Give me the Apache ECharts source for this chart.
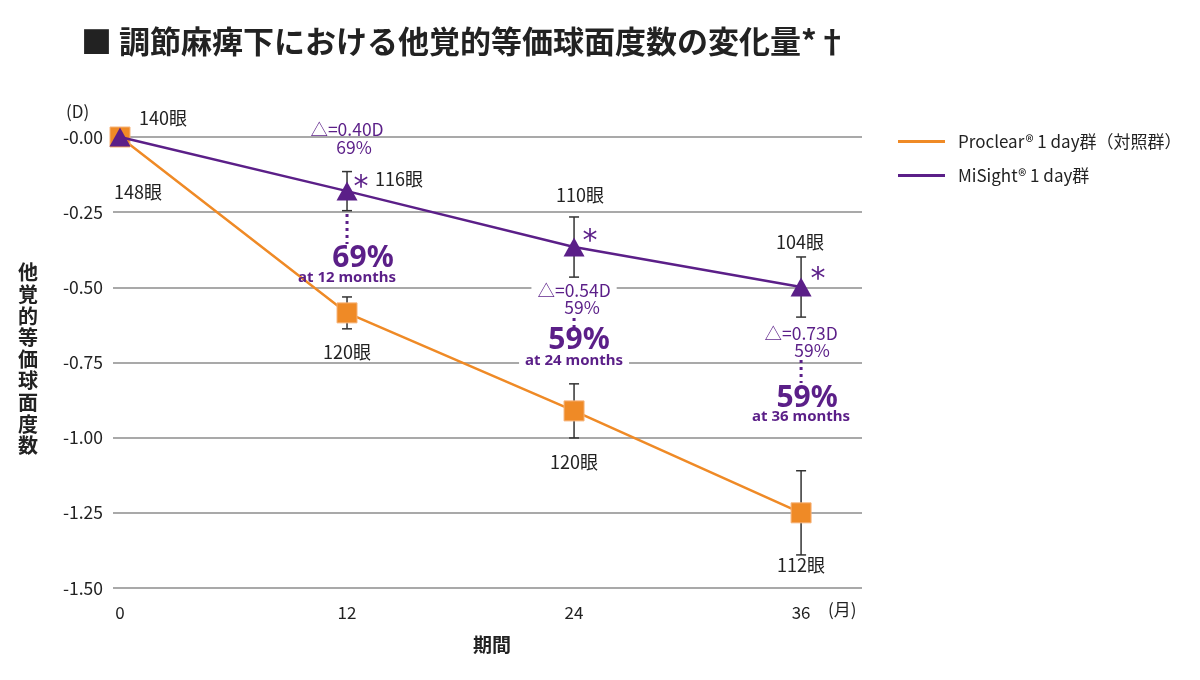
<!DOCTYPE html>
<html>
<head>
<meta charset="utf-8">
<script src="https://cdn.jsdelivr.net/npm/echarts@6/dist/echarts.min.js"></script>
<style>
  html, body { margin: 0; background: #fff; }
  #chart { width: 1200px; height: 680px; }
</style>
</head>
<body>
<div id="chart"></div>
<script>
  // 期間（月）
  const months = [0, 12, 24, 36]
  // Proclear 1 day群（対照群）
  const proclear = [0, -0.585, -0.911, -1.25]
  const proclearErr = [0, 0.053, 0.09, 0.14]
  const proclearEyes = [148, 120, 120, 112]
  // MiSight 1 day群
  const misight = [0, -0.18, -0.366, -0.499]
  const misightErr = [0, 0.065, 0.10, 0.10]
  const misightEyes = [140, 116, 110, 104]
  // 群間差
  const diffMonths = [12, 24, 36]
  const diffDioptre = ['0.40', '0.54', '0.73']
  const diffPercent = ['69%', '59%', '59%']

  const ORANGE = '#EF8A26'
  const PURPLE = '#5B1F88'
  const TEXT = '#222'
  const JP = '"Noto Sans CJK JP", "Noto Sans", sans-serif'

  // ラベル位置（px）
  const purpleEyeOffset = [[43, -19], [52, -12], [6, -52], [-1, -45]]
  const orangeEyeOffset = [[18, 55], [0, 39], [0, 51], [0, 52]]
  const noteLayout = [
    { delta: -62, pct: -44, pctX: 7, dot: [23, 53], big: 67, bigX: 16, at: 87, bg: false, star: [14, -3] },
    { delta: 43, pct: 60, pctX: 8, dot: [71, 81], big: 93, bigX: 5, at: 114, bg: true, star: [16, -5] },
    { delta: 46, pct: 63, pctX: 11, dot: [73, 96], big: 111, bigX: 6, at: 130, bg: false, star: [17, -7] }
  ]

  const chart = echarts.init(document.getElementById('chart'))

  function errData(ys, errs) {
    return months.map((m, i) => [m, ys[i], errs[i]]).filter(d => d[2] > 0)
  }

  function renderErr(params, api) {
    const x = api.value(0), y = api.value(1), e = api.value(2)
    const top = api.coord([x, y + e])
    const bot = api.coord([x, y - e])
    const st = { stroke: '#333', lineWidth: 1.5 }
    return {
      type: 'group',
      children: [
        { type: 'line', shape: { x1: top[0], y1: top[1], x2: bot[0], y2: bot[1] }, style: st },
        { type: 'line', shape: { x1: top[0] - 5, y1: top[1], x2: top[0] + 5, y2: top[1] }, style: st },
        { type: 'line', shape: { x1: bot[0] - 5, y1: bot[1], x2: bot[0] + 5, y2: bot[1] }, style: st }
      ]
    }
  }

  function lineData(ys, eyes, offsets) {
    return months.map((m, i) => ({
      value: [m, ys[i]],
      label: { offset: offsets[i] },
      eyes: eyes[i]
    }))
  }

  function noteText(p, text, dx, dy, size, weight, bg, family) {
    return {
      type: 'text',
      style: {
        text: text,
        x: p[0] + dx,
        y: p[1] + dy,
        fill: PURPLE,
        fontSize: size,
        fontWeight: weight,
        fontFamily: family || (weight === 'bold' ? '"Noto Sans", sans-serif' : JP),
        align: 'center',
        verticalAlign: 'middle',
        backgroundColor: bg ? '#fff' : null,
        padding: bg ? [1, 6] : 0
      }
    }
  }

  function renderNote(params, api) {
    const i = params.dataIndex
    const L = noteLayout[i]
    const p = api.coord([api.value(0), api.value(1)])
    return {
      type: 'group',
      children: [
        noteText(p, '*', L.star[0], L.star[1], 30, 'normal', false, '"DejaVu Sans", sans-serif'),
        noteText(p, '△=' + diffDioptre[i] + 'D', 0, L.delta, 17.5, 'normal', L.bg),
        noteText(p, diffPercent[i], L.pctX, L.pct, 17.5, 'normal', false),
        {
          type: 'line',
          shape: { x1: p[0], y1: p[1] + L.dot[0], x2: p[0], y2: p[1] + L.dot[1] },
          style: { stroke: PURPLE, lineWidth: 3, lineDash: [3, 4] }
        },
        noteText(p, diffPercent[i], L.bigX, L.big, 30, 'bold', false),
        noteText(p, 'at ' + diffMonths[i] + ' months', 0, L.at, 15, 'bold', L.bg)
      ]
    }
  }

  chart.setOption({
    animation: false,
    title: {
      text: '■ 調節麻痺下における他覚的等価球面度数の変化量*†',
      left: 76,
      top: 21,
      textStyle: { fontSize: 31, fontWeight: 'bold', color: '#222', fontFamily: JP }
    },
    legend: {
      orient: 'vertical',
      left: 893,
      top: 128,
      itemWidth: 47,
      itemHeight: 3,
      itemGap: 17,
      icon: 'rect',
      itemStyle: { borderWidth: 0 },
      data: ['Proclear® 1 day群（対照群）', 'MiSight® 1 day群'],
      textStyle: { fontSize: 17, color: TEXT, fontFamily: JP, padding: [0, 0, 0, 8] }
    },
    grid: { left: 113, right: 338, top: 137, bottom: 92 },
    xAxis: {
      type: 'value',
      min: -0.37,
      max: 39.22,
      axisLine: { show: false },
      axisTick: { show: false },
      splitLine: { show: false },
      axisLabel: {
        customValues: months,
        margin: 16,
        fontSize: 17,
        color: TEXT,
        fontFamily: JP
      }
    },
    yAxis: {
      type: 'value',
      min: -1.5,
      max: 0,
      interval: 0.25,
      axisLine: { show: false },
      axisTick: { show: false },
      splitLine: { lineStyle: { color: '#8c8c8c', width: 1.5 } },
      axisLabel: {
        margin: 10,
        fontSize: 17.5,
        color: TEXT,
        fontFamily: JP,
        formatter: v => (v === 0 ? '-0.00' : v.toFixed(2))
      }
    },
    graphic: [
      { type: 'text', left: 66, top: 103, style: { text: '(D)', fontSize: 17, fill: TEXT, fontFamily: JP } },
      { type: 'text', left: 828, top: 601, style: { text: '(月)', fontSize: 17, fill: TEXT, fontFamily: JP } },
      { type: 'text', left: 473, top: 635, style: { text: '期間', fontSize: 19, fontWeight: 'bold', fill: TEXT, fontFamily: JP } },
      {
        type: 'text', left: 18, top: 262,
        style: {
          text: '他\n覚\n的\n等\n価\n球\n面\n度\n数',
          fontSize: 20, lineHeight: 21.6, fontWeight: 'bold', fill: TEXT, fontFamily: JP
        }
      }
    ],
    series: [
      {
        type: 'custom',
        name: 'err-p',
        renderItem: renderErr,
        data: errData(proclear, proclearErr),
        z: 1,
        silent: true
      },
      {
        type: 'custom',
        name: 'err-m',
        renderItem: renderErr,
        data: errData(misight, misightErr),
        z: 1,
        silent: true
      },
      {
        name: 'Proclear® 1 day群（対照群）',
        type: 'line',
        clip: false,
        z: 3,
        data: lineData(proclear, proclearEyes, orangeEyeOffset),
        symbol: 'rect',
        symbolSize: 20,
        color: ORANGE,
        itemStyle: { color: ORANGE, borderColor: '#f6b47a', borderWidth: 1 },
        lineStyle: { color: ORANGE, width: 2.5 },
        label: {
          show: true,
          position: 'inside',
          fontSize: 18,
          color: TEXT,
          fontFamily: JP,
          formatter: p => p.data.eyes + '眼'
        }
      },
      {
        name: 'MiSight® 1 day群',
        type: 'line',
        clip: false,
        z: 4,
        data: lineData(misight, misightEyes, purpleEyeOffset),
        symbol: 'triangle',
        symbolSize: [21, 19],
        color: PURPLE,
        itemStyle: { color: PURPLE },
        lineStyle: { color: PURPLE, width: 2.5 },
        label: {
          show: true,
          position: 'inside',
          fontSize: 18,
          color: TEXT,
          fontFamily: JP,
          formatter: p => p.data.eyes + '眼'
        }
      },
      {
        type: 'custom',
        name: 'notes',
        renderItem: renderNote,
        data: diffMonths.map(m => [m, misight[months.indexOf(m)]]),
        z: 5,
        silent: true
      }
    ]
  })
</script>
</body>
</html>
